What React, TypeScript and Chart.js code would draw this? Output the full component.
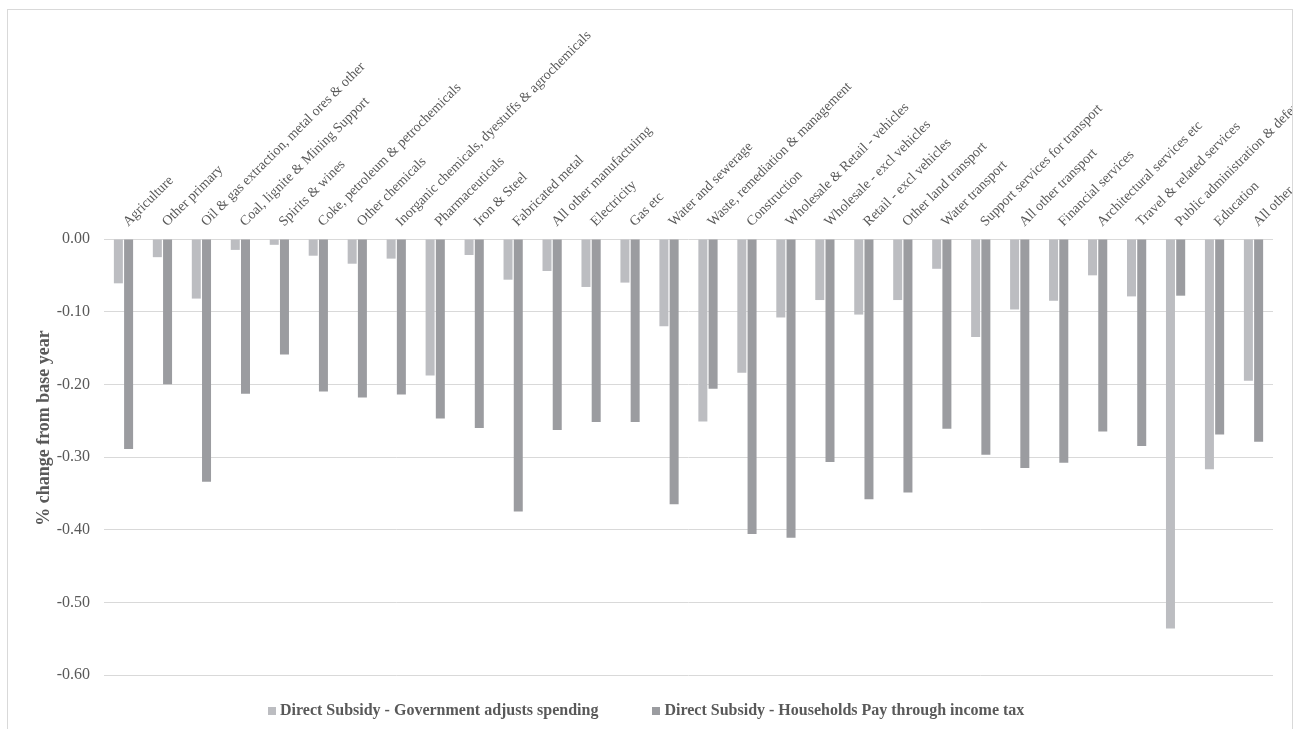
import React, { useEffect, useRef } from "react";
import { Chart, registerables } from "chart.js";

Chart.register(...registerables);

const sectors: string[] = [
  "Agriculture",
  "Other primary",
  "Oil & gas extraction, metal ores & other",
  "Coal, lignite & Mining Support",
  "Spirits & wines",
  "Coke, petroleum & petrochemicals",
  "Other chemicals",
  "Inorganic chemicals, dyestuffs & agrochemicals",
  "Pharmaceuticals",
  "Iron & Steel",
  "Fabricated metal",
  "All other manufactuirng",
  "Electricity",
  "Gas etc",
  "Water and sewerage",
  "Waste, remediation & management",
  "Construction",
  "Wholesale & Retail - vehicles",
  "Wholesale - excl vehicles",
  "Retail - excl vehicles",
  "Other land transport",
  "Water transport",
  "Support services for transport",
  "All other transport",
  "Financial services",
  "Architectural services etc",
  "Travel & related services",
  "Public administration & defence",
  "Education",
  "All other services",
];

const governmentAdjustsSpending: number[] = [
  -0.061, -0.025, -0.082, -0.015, -0.008, -0.023, -0.034, -0.027, -0.188, -0.022,
  -0.056, -0.044, -0.066, -0.06, -0.12, -0.251, -0.184, -0.108, -0.084, -0.104,
  -0.084, -0.041, -0.135, -0.097, -0.085, -0.05, -0.079, -0.536, -0.317, -0.195,
];

const householdsPayIncomeTax: number[] = [
  -0.289, -0.2, -0.334, -0.213, -0.159, -0.21, -0.218, -0.214, -0.247, -0.26,
  -0.375, -0.263, -0.252, -0.252, -0.365, -0.206, -0.406, -0.411, -0.307, -0.358,
  -0.349, -0.261, -0.297, -0.315, -0.308, -0.265, -0.285, -0.078, -0.269, -0.279,
];

const seriesNames: string[] = [
  "Direct Subsidy - Government adjusts spending",
  "Direct Subsidy - Households Pay through income tax",
];

const seriesColors: string[] = ["#bcbdc1", "#9b9ca0"];

const yAxisTitle = "% change from base year";

const SERIF = "'Liberation Serif', 'Times New Roman', serif";
const TEXT = "#595959";

// Vertical axis title, centred a little above the middle of the plot
const yTitlePlugin = {
  id: "yTitle",
  afterDraw(chart: Chart) {
    const { ctx, chartArea } = chart;
    ctx.save();
    ctx.font = `bold 18px ${SERIF}`;
    ctx.fillStyle = TEXT;
    ctx.textAlign = "center";
    ctx.textBaseline = "middle";
    ctx.translate(36, (chartArea.top + chartArea.bottom) / 2 - 29);
    ctx.rotate(-Math.PI / 2);
    ctx.fillText(yAxisTitle, 0, 0);
    ctx.restore();
  },
};

export default function App() {
  const canvasRef = useRef<HTMLCanvasElement | null>(null);

  useEffect(() => {
    if (!canvasRef.current) return;
    const chart = new Chart(canvasRef.current, {
      type: "bar",
      data: {
        labels: sectors,
        datasets: seriesNames.map((name, i) => ({
          label: name,
          data: i === 0 ? governmentAdjustsSpending : householdsPayIncomeTax,
          backgroundColor: seriesColors[i],
          categoryPercentage: 0.525,
          barPercentage: 0.88,
        })),
      },
      options: {
        animation: false,
        responsive: true,
        maintainAspectRatio: false,
        layout: { padding: { top: 0, right: 19, bottom: 54, left: 0 } },
        plugins: {
          tooltip: { enabled: false },
          legend: { display: false },
        },
        scales: {
          x: {
            position: "top",
            grid: { display: false },
            border: { display: false },
            ticks: {
              autoSkip: false,
              minRotation: 45,
              maxRotation: 45,
              padding: 1,
              labelOffset: 14,
              color: TEXT,
              font: { family: SERIF, size: 14 },
            },
            afterFit(axis: any) {
              axis.height = 229;
              axis.paddingLeft = 0;
              axis.paddingRight = 0;
            },
          },
          y: {
            min: -0.6,
            max: 0,
            grid: { color: "#d9d9d9", lineWidth: 1, drawTicks: false },
            border: { display: false },
            ticks: {
              stepSize: 0.1,
              padding: 14,
              color: TEXT,
              font: { family: SERIF, size: 16 },
              callback: (v: any) => Number(v).toFixed(2),
            },
            afterFit(axis: any) {
              axis.width = 96;
            },
          },
        },
      },
      plugins: [yTitlePlugin],
    });
    return () => chart.destroy();
  }, []);

  return (
    <>
      <div
        style={{
          position: "absolute",
          left: 7,
          top: 9,
          width: 1286,
          height: 720,
          boxSizing: "border-box",
          border: "1px solid #d9d9d9",
          borderBottom: "none",
          background: "#fff",
          overflow: "hidden",
        }}
      >
        <canvas ref={canvasRef} />
      </div>
      <div
        style={{
          position: "absolute",
          left: 268,
          top: 701,
          display: "flex",
          gap: 54,
          whiteSpace: "nowrap",
          fontFamily: SERIF,
          fontWeight: "bold",
          fontSize: 16,
          lineHeight: "18px",
          color: TEXT,
        }}
      >
        {seriesNames.map((name, i) => (
          <span key={name}>
            <span
              style={{
                display: "inline-block",
                width: 8,
                height: 8,
                marginRight: 4,
                background: seriesColors[i],
                verticalAlign: "baseline",
              }}
            />
            {name}
          </span>
        ))}
      </div>
    </>
  );
}
